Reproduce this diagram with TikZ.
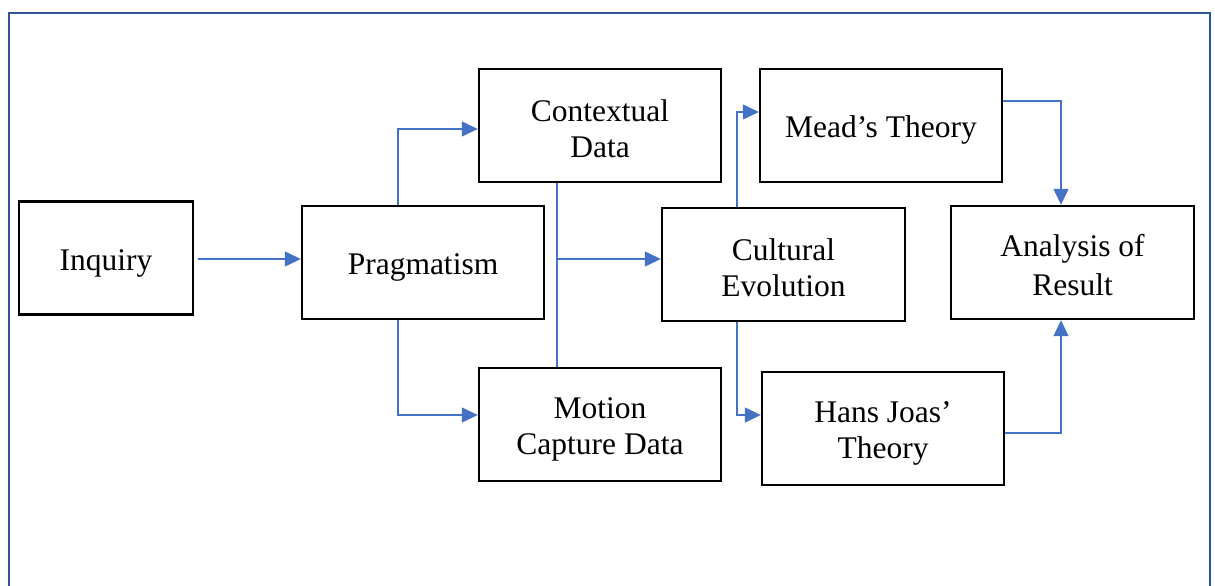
\documentclass[tikz,border=0pt]{standalone}
\usepackage{fontspec}
\setmainfont{Liberation Serif}
\usetikzlibrary{arrows.meta}
\definecolor{framec}{HTML}{2F5597}
\definecolor{connc}{HTML}{4472C4}
\newcommand{\ls}{\rule[-4.5pt]{0pt}{36pt}}
\tikzset{
  box/.style={draw=black, line width=2.4pt, minimum width=242pt, minimum height=113pt, align=center, inner sep=0pt, font=\fontsize{31.5}{36}\selectfont},
  conn/.style={draw=connc, line width=1.3pt},
  arr/.style={conn, -{Triangle[length=16pt,width=15pt]}},
  frame/.style={draw=framec, line width=2.6pt}
}
\begin{document}
\begin{tikzpicture}[x=1pt,y=-1pt]
\useasboundingbox (0,0) rectangle (1215,586);
\draw[frame] (9,600) -- (9,13) -- (1210,13) -- (1210,600);

\node[box, minimum width=174pt] (inq) at (106,258) {\ls Inquiry};
\node[box] (prag) at (423,262.5) {\ls Pragmatism};
\node[box] (ctx) at (600,125.5) {\ls Contextual\\\ls Data};
\node[box] (mot) at (600,424.5) {\ls Motion\\\ls Capture Data};
\node[box, minimum width=243pt] (cult) at (783.5,264.5) {\ls Cultural\\\ls Evolution};
\node[box] (mead) at (881,125.5) {\ls Mead’s Theory};
\node[box] (hans) at (883,428.5) {\ls Hans Joas’\\\ls Theory};
\node[box, minimum width=243pt] (ana) at (1072.5,262.5) {\ls Analysis of\\\ls Result};

\coordinate (j) at (557,259);

\draw[arr] ([xshift=4pt]inq.east |- j) -- (prag.west |- j);
\draw[arr] (prag.north -| 398,0) |- (ctx.west |- 0,129);
\draw[arr] (prag.south -| 398,0) |- (mot.west |- 0,415);
\draw[conn] (ctx.south -| j) -- (mot.north -| j);
\draw[arr] (j) -- (cult.west |- j);
\draw[arr] (cult.north -| 737,0) |- (mead.west |- 0,112);
\draw[arr] (cult.south -| 737,0) |- (hans.west |- 0,415);
\draw[arr] (mead.east |- 0,101) -| (ana.north -| 1061,0);
\draw[arr] (hans.east |- 0,433) -| (ana.south -| 1061,0);
\end{tikzpicture}
\end{document}
